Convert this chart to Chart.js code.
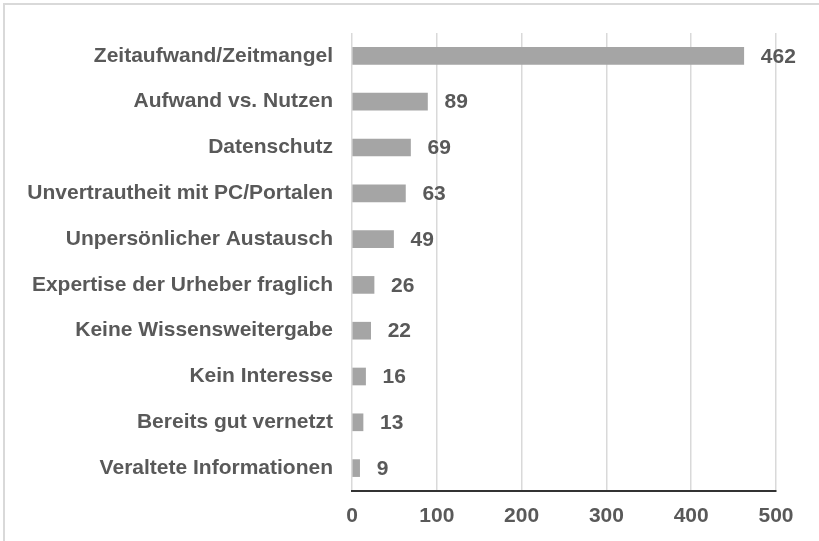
<!DOCTYPE html>
<html>
<head>
<meta charset="utf-8">
<script src="https://cdn.jsdelivr.net/npm/chart.js@4"></script>
<style>
    html, body { margin: 0; padding: 0; background: #fff; }
    #wrap { position: relative; width: 819px; height: 541px; }
    #frame {
        position: absolute; left: 3px; top: 3px; right: 0; bottom: 0;
        border-top: 2px solid #d9d9d9; border-left: 2px solid #d9d9d9;
        pointer-events: none;
    }
    canvas { position: absolute; left: 0; top: 0; }
</style>
</head>
<body>
<div id="wrap">
    <canvas id="barChart" width="819" height="541"></canvas>
    <div id="frame"></div>
</div>
<script>
// ==========================================
// DATA
// ==========================================
var categories = [
    'Zeitaufwand/Zeitmangel',
    'Aufwand vs. Nutzen',
    'Datenschutz',
    'Unvertrautheit mit PC/Portalen',
    'Unpersönlicher Austausch',
    'Expertise der Urheber fraglich',
    'Keine Wissensweitergabe',
    'Kein Interesse',
    'Bereits gut vernetzt',
    'Veraltete Informationen'
];
var counts = [462, 89, 69, 63, 49, 26, 22, 16, 13, 9];
var xTicks = [0, 100, 200, 300, 400, 500];

var FONT = '"Liberation Sans", Arial, sans-serif';
var TEXT = '#595959';

// value labels at the end of each bar
var valueLabels = {
    id: 'valueLabels',
    afterDatasetsDraw: function(chart) {
        var ctx = chart.ctx;
        var meta = chart.getDatasetMeta(0);
        ctx.save();
        ctx.font = 'bold 21px ' + FONT;
        ctx.fillStyle = TEXT;
        ctx.textAlign = 'left';
        ctx.textBaseline = 'middle';
        meta.data.forEach(function(bar, i) {
            ctx.fillText(String(counts[i]), bar.x + 17, bar.y + 1);
        });
        ctx.restore();
    }
};

new Chart(document.getElementById('barChart').getContext('2d'), {
    type: 'bar',
    data: {
        labels: categories,
        datasets: [{
            data: counts,
            backgroundColor: '#a5a5a5',
            barThickness: 17
        }]
    },
    options: {
        indexAxis: 'y',
        responsive: false,
        animation: false,
        layout: { padding: { top: 33, right: 43, left: 0, bottom: 0 } },
        plugins: { legend: { display: false }, tooltip: { enabled: false } },
        scales: {
            x: {
                min: 0,
                max: 500,
                afterBuildTicks: function(scale) {
                    scale.ticks = xTicks.map(function(v) { return { value: v }; });
                },
                afterFit: function(scale) { scale.height = 50; },
                grid: { color: '#d9d9d9', lineWidth: 1.5, drawTicks: false },
                border: { color: '#333333', width: 2 },
                ticks: {
                    padding: 13,
                    color: TEXT,
                    font: { family: FONT, size: 21, weight: 'bold' }
                }
            },
            y: {
                afterFit: function(scale) { scale.width = 352; },
                grid: { display: false, drawTicks: false },
                border: { display: false },
                ticks: {
                    padding: 19,
                    color: TEXT,
                    font: { family: FONT, size: 21, weight: 'bold' }
                }
            }
        }
    },
    plugins: [valueLabels]
});
</script>
</body>
</html>
